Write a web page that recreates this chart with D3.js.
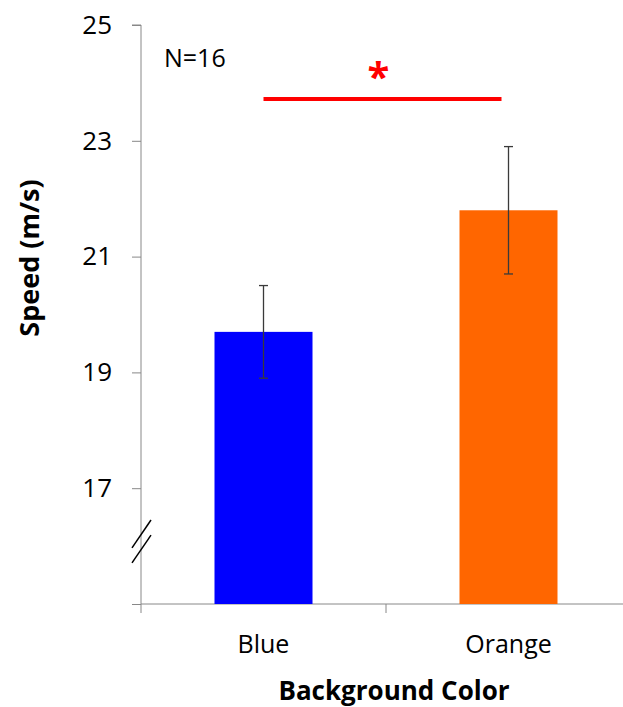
<!DOCTYPE html>
<html>
<head>
<meta charset="utf-8">
<script src="https://cdn.jsdelivr.net/npm/d3@7"></script>
<style>
  body { margin: 0; background: #fff; }
  svg { display: block; font-family: "Open Sans", sans-serif; }
</style>
</head>
<body>
<div id="chart"></div>
<script>
// Data
const categories = ["Blue", "Orange"];
const means = [19.7, 21.8];
const errors = [0.8, 1.1];
const barColors = ["#0000ff", "#ff6600"];
const yTicks = [15, 17, 19, 21, 23, 25];
const sampleLabel = "N=16";
const sigLevel = 23.72;

const width = 623;
const height = 707;

const svg = d3.select("#chart")
  .append("svg")
  .attr("width", width)
  .attr("height", height);

// Scales
const x = d3.scaleBand()
  .domain(categories)
  .range([141, 631])
  .paddingInner(0)
  .paddingOuter(0);

const y = d3.scaleLinear()
  .domain([15, 25])
  .range([604, 25]);

const axisColor = "#888888";

// Y axis
const yAxis = svg.append("g")
  .attr("transform", "translate(141,0)")
  .call(d3.axisLeft(y)
    .tickValues(yTicks)
    .tickSize(9)
    .tickPadding(20)
    .tickFormat(d => d === 15 ? "" : d));
yAxis.select(".domain").attr("stroke", axisColor).attr("d", `M0,${y(15)}V${y(25)}M-9,${y(25)}H0`);
yAxis.selectAll(".tick line").attr("stroke", axisColor);
yAxis.selectAll(".tick text")
  .attr("fill", "#000")
  .style("font-size", "26px")
  .style("font-family", "'Open Sans', sans-serif");

// X axis
const xAxis = svg.append("g")
  .attr("transform", `translate(0,${y(15)})`);
xAxis.append("line")
  .attr("x1", 141).attr("x2", 631)
  .attr("stroke", axisColor);
xAxis.selectAll("line.xtick")
  .data([141, 386, 631])
  .enter()
  .append("line")
  .attr("class", "xtick")
  .attr("x1", d => d).attr("x2", d => d)
  .attr("y1", 0).attr("y2", 9)
  .attr("stroke", axisColor);
xAxis.selectAll("text.xlabel")
  .data(categories)
  .enter()
  .append("text")
  .attr("class", "xlabel")
  .attr("x", d => x(d) + x.bandwidth() / 2)
  .attr("y", 49)
  .attr("text-anchor", "middle")
  .style("font-size", "25px")
  .text(d => d);

// Axis break marks
[[16.45, 15.97], [16.19, 15.71]].forEach(([a, b]) => {
  svg.append("line")
    .attr("x1", 151).attr("y1", y(a))
    .attr("x2", 132).attr("y2", y(b))
    .attr("stroke", "#000")
    .attr("stroke-width", 1.5);
});

// Bars
const barW = x.bandwidth() * 0.4;
svg.selectAll("rect.bar")
  .data(categories)
  .enter()
  .append("rect")
  .attr("class", "bar")
  .attr("x", d => x(d) + (x.bandwidth() - barW) / 2)
  .attr("y", (d, i) => y(means[i]))
  .attr("width", barW)
  .attr("height", (d, i) => y(15) - y(means[i]))
  .attr("fill", (d, i) => barColors[i]);

// Error bars
const errG = svg.append("g").attr("stroke", "#3a3a3a").attr("stroke-width", 1.3);
categories.forEach((c, i) => {
  const cx = x(c) + x.bandwidth() / 2;
  const top = y(means[i] + errors[i]);
  const bot = y(means[i] - errors[i]);
  errG.append("line").attr("x1", cx).attr("x2", cx).attr("y1", top).attr("y2", bot);
  errG.append("line").attr("x1", cx - 4.5).attr("x2", cx + 4.5).attr("y1", top).attr("y2", top);
  errG.append("line").attr("x1", cx - 4.5).attr("x2", cx + 4.5).attr("y1", bot).attr("y2", bot);
});

// Significance bar
const sx1 = x("Blue") + x.bandwidth() / 2;
const sx2 = x("Orange") + x.bandwidth() / 2 - 7;
svg.append("line")
  .attr("x1", sx1).attr("x2", sx2)
  .attr("y1", y(sigLevel)).attr("y2", y(sigLevel))
  .attr("stroke", "#ff0000")
  .attr("stroke-width", 4);
svg.append("text")
  .attr("x", (sx1 + sx2) / 2 - 4)
  .attr("y", 91)
  .attr("text-anchor", "middle")
  .attr("fill", "#ff0000")
  .style("font-size", "40px")
  .style("font-weight", "bold")
  .text("*");

// Sample size
svg.append("text")
  .attr("x", 164)
  .attr("y", 67)
  .style("font-size", "25px")
  .text(sampleLabel);

// Axis titles
svg.append("text")
  .attr("x", 394)
  .attr("y", 700)
  .attr("text-anchor", "middle")
  .style("font-size", "26px")
  .style("font-weight", "bold")
  .text("Background Color");

svg.append("text")
  .attr("transform", "translate(39,258) rotate(-90)")
  .attr("text-anchor", "middle")
  .style("font-size", "27px")
  .style("font-weight", "bold")
  .text("Speed (m/s)");
</script>
</body>
</html>
